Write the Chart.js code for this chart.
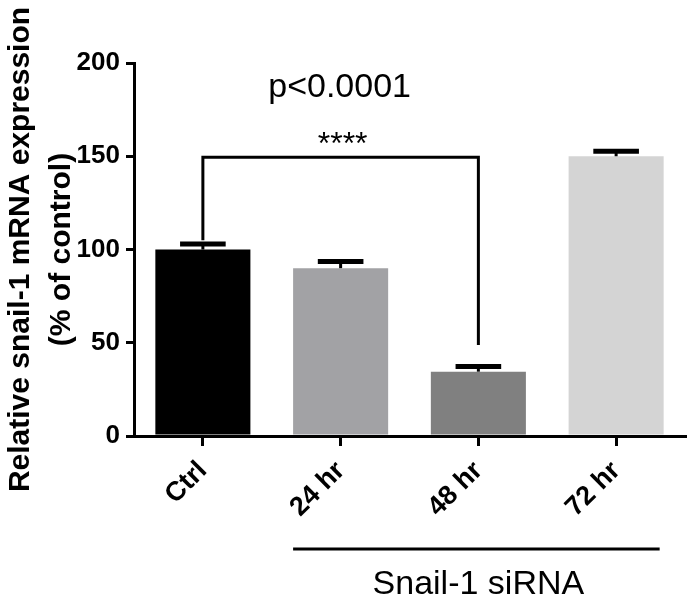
<!DOCTYPE html>
<html>
<head>
<meta charset="utf-8">
<script src="https://cdn.jsdelivr.net/npm/chart.js@4.4.1/dist/chart.umd.min.js"></script>
<style>
  html, body { margin: 0; padding: 0; background: #ffffff; }
  #wrap { width: 692px; height: 597px; position: relative; }
</style>
</head>
<body>
<div id="wrap"><canvas id="c" width="692" height="597"></canvas></div>
<script>
// ---- data ----
const categories = ['Ctrl', '24 hr', '48 hr', '72 hr'];
const values = [100, 90, 34.5, 150];
const errors = [3, 3.5, 2.7, 2.7];
const barColors = ['#000000', '#a2a2a5', '#808080', '#d4d4d4'];
const yTicks = [0, 50, 100, 150, 200];
const yTitle = ['Relative snail-1 mRNA expression', '(% of control)'];
const pLabel = 'p<0.0001';
const starsLabel = '****';
const groupLabel = 'Snail-1 siRNA';
// significance bracket: from category 0 to category 2
const bracketFrom = 0, bracketTo = 2;
const bracketTop = 149.5, bracketLeftEnd = 105, bracketRightEnd = 48.8;
const pLabelValue = 182;
// group underline covers categories 1..3
const groupFrom = 1, groupTo = 3;

const FONT = "'Liberation Sans', Arial, Helvetica, sans-serif";

const annotations = {
  id: 'annotations',
  afterDatasetsDraw(chart) {
    const {ctx, scales: {x, y}, chartArea} = chart;
    const meta = chart.getDatasetMeta(0);
    ctx.save();
    ctx.strokeStyle = '#000';
    ctx.fillStyle = '#000';
    // error bars (upward only)
    meta.data.forEach((bar, i) => {
      const cx = x.getPixelForValue(i);
      const yTop = y.getPixelForValue(values[i]);
      const yErr = y.getPixelForValue(values[i] + errors[i]);
      const capW = bar.width * 0.48;
      ctx.lineWidth = 3;
      ctx.beginPath();
      ctx.moveTo(cx, yTop);
      ctx.lineTo(cx, yErr);
      ctx.stroke();
      ctx.lineWidth = 5;
      ctx.beginPath();
      ctx.moveTo(cx - capW / 2, yErr);
      ctx.lineTo(cx + capW / 2, yErr);
      ctx.stroke();
    });
    // bracket
    const bx1 = x.getPixelForValue(bracketFrom);
    const bx2 = x.getPixelForValue(bracketTo);
    const by = y.getPixelForValue(bracketTop);
    ctx.lineWidth = 3;
    ctx.lineJoin = 'miter';
    ctx.beginPath();
    ctx.moveTo(bx1, y.getPixelForValue(bracketLeftEnd));
    ctx.lineTo(bx1, by);
    ctx.lineTo(bx2, by);
    ctx.lineTo(bx2, y.getPixelForValue(bracketRightEnd));
    ctx.stroke();
    const mid = (bx1 + bx2) / 2;
    ctx.textAlign = 'center';
    ctx.textBaseline = 'alphabetic';
    ctx.font = '32px ' + FONT;
    ctx.fillText(starsLabel, mid + 2, by - 3);
    ctx.font = '34px ' + FONT;
    ctx.fillText(pLabel, mid - 1, y.getPixelForValue(pLabelValue));
    // group underline and label
    const meta0 = meta.data;
    const gx1 = x.getPixelForValue(groupFrom) - meta0[groupFrom].width / 2;
    const gx2 = x.getPixelForValue(groupTo) + meta0[groupTo].width / 2 - 4;
    const gy = chartArea.bottom + 113;
    ctx.lineWidth = 3;
    ctx.beginPath();
    ctx.moveTo(gx1, gy);
    ctx.lineTo(gx2, gy);
    ctx.stroke();
    ctx.font = '34px ' + FONT;
    ctx.fillText(groupLabel, x.getPixelForValue(2), chartArea.bottom + 158);
    ctx.restore();
  }
};

new Chart(document.getElementById('c'), {
  type: 'bar',
  data: {
    labels: categories,
    datasets: [{
      data: values,
      backgroundColor: barColors,
      borderWidth: 0,
      barPercentage: 0.69,
      categoryPercentage: 1.0
    }]
  },
  options: {
    responsive: false,
    animation: false,
    devicePixelRatio: 1,
    layout: { padding: { top: 63, right: 7, bottom: 0, left: 0 } },
    plugins: { legend: { display: false }, tooltip: { enabled: false } },
    scales: {
      x: {
        offset: true,
        grid: { display: true, drawOnChartArea: false, drawTicks: true, offset: false,
                tickLength: 10, color: '#000', lineWidth: 3 },
        border: { display: true, color: '#000', width: 3 },
        ticks: { color: '#000', font: { family: FONT, size: 27, weight: 'bold' },
                 maxRotation: 45, minRotation: 45, padding: 9, autoSkip: false },
        afterFit(scale) { scale.height = 161; }
      },
      y: {
        min: 0, max: 200,
        afterBuildTicks(scale) { scale.ticks = yTicks.map(v => ({ value: v })); },
        grid: { display: true, drawOnChartArea: false, drawTicks: true,
                tickLength: 8, color: '#000', lineWidth: 3 },
        border: { display: true, color: '#000', width: 3 },
        ticks: { color: '#000', font: { family: FONT, size: 26, weight: 'bold' }, padding: 6 },
        title: { display: true, text: yTitle, color: '#000',
                 font: { family: FONT, size: 30, weight: 'bold', lineHeight: 1.37 },
                 padding: { top: 0, bottom: 0 } },
        afterFit(scale) { scale.width = 134; }
      }
    }
  },
  plugins: [annotations]
});
</script>
</body>
</html>
